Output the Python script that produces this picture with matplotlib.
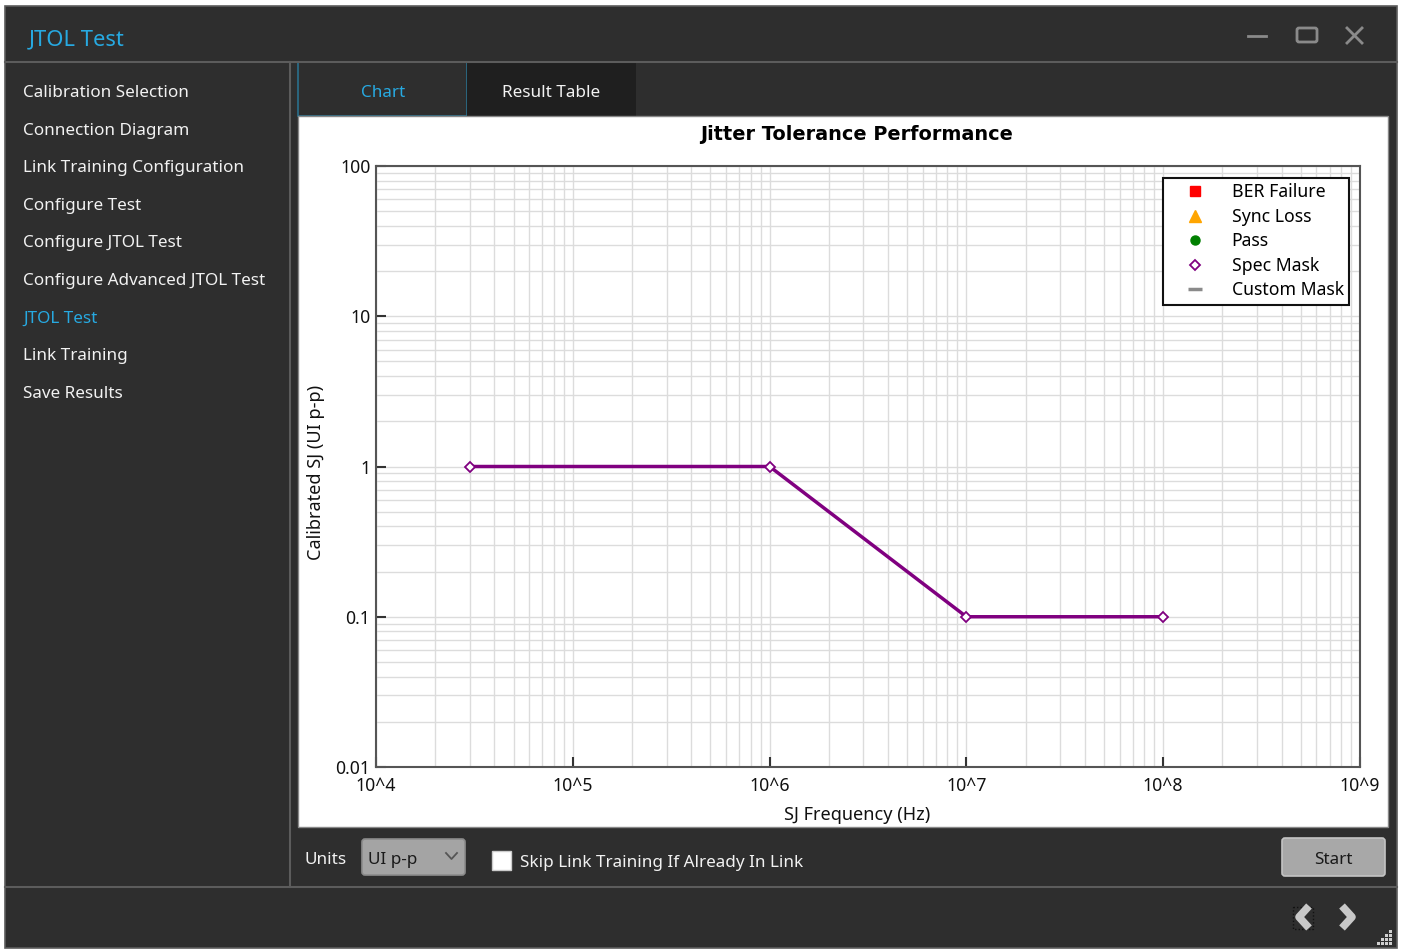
import numpy as np
import matplotlib
matplotlib.use("Agg")
import matplotlib.pyplot as plt
from matplotlib.patches import Rectangle, FancyBboxPatch
from matplotlib.lines import Line2D

# data
freq_hz = np.array([3e4, 1e6, 1e7, 1e8])
spec_mask = np.array([1.0, 1.0, 0.1, 0.1])
x_ticks = [1e4, 1e5, 1e6, 1e7, 1e8, 1e9]
x_tick_labels = ["10^4", "10^5", "10^6", "10^7", "10^8", "10^9"]
y_ticks = [0.01, 0.1, 1, 10, 100]
y_tick_labels = ["0.01", "0.1", "1", "10", "100"]
menu_items = ["Calibration Selection", "Connection Diagram",
              "Link Training Configuration", "Configure Test",
              "Configure JTOL Test", "Configure Advanced JTOL Test",
              "JTOL Test", "Link Training", "Save Results"]
active_item = "JTOL Test"
legend_labels = ["BER Failure", "Sync Loss", "Pass", "Spec Mask", "Custom Mask"]

W, H = 1403, 950
BG = "#2e2e2e"
CYAN = "#27a9e1"
FONT = "Noto Sans"
UI_FS = 12.3

plt.rcParams["font.family"] = [FONT, "DejaVu Sans"]

fig = plt.figure(figsize=(W / 100, H / 100), dpi=100, facecolor="white")

# window chrome drawn in pixel coordinates
ui = fig.add_axes([0, 0, 1, 1])
ui.set_xlim(0, W)
ui.set_ylim(H, 0)
ui.axis("off")

ui.add_patch(Rectangle((5, 6), 1392, 942, facecolor=BG, edgecolor="#5c5c5c", lw=1.2))
ui.plot([5, 1397], [62, 62], color="#5c5c5c", lw=1.5)
ui.plot([290, 290], [62, 887], color="#5c5c5c", lw=1.5)
ui.plot([5, 1397], [887, 887], color="#5c5c5c", lw=1.5)

ui.text(29, 40, "JTOL Test", color=CYAN, fontsize=15.8, va="center", ha="left")

# title bar buttons
ui.plot([1248, 1266], [36, 36], color="#8a8a8a", lw=2)
ui.add_patch(FancyBboxPatch((1297, 28), 20, 14, boxstyle="round,pad=0,rounding_size=2",
                            facecolor="none", edgecolor="#8a8a8a", lw=2))
ui.plot([1347, 1362], [28, 43], color="#8a8a8a", lw=2)
ui.plot([1347, 1362], [43, 28], color="#8a8a8a", lw=2)

# side menu
for i, item in enumerate(menu_items):
    col = CYAN if item == active_item else "#f2f2f2"
    ui.text(23, 93 + i * 37.6, item, color=col, fontsize=UI_FS, va="center", ha="left")

# tabs
ui.add_patch(Rectangle((298, 62), 169, 54, facecolor=BG, edgecolor="#2a6f8c", lw=1.2))
ui.add_patch(Rectangle((467, 62), 169, 54, facecolor="#1f1f1f", edgecolor="none"))
ui.text(383, 93, "Chart", color=CYAN, fontsize=UI_FS, va="center", ha="center")
ui.text(551, 93, "Result Table", color="#f2f2f2", fontsize=UI_FS, va="center", ha="center")

# chart panel
ui.add_patch(Rectangle((298, 116), 1090, 711, facecolor="white", edgecolor="#888888", lw=1))
ui.text(857, 134, "Jitter Tolerance Performance", color="black", fontsize=13.9,
        fontweight="bold", family="DejaVu Sans", va="center", ha="center")

# bottom controls
ui.text(305, 860, "Units", color="#f2f2f2", fontsize=UI_FS, va="center", ha="left")
ui.add_patch(FancyBboxPatch((362, 839), 103, 36, boxstyle="round,pad=0,rounding_size=3",
                            facecolor="#a4a4a4", edgecolor="#8c8c8c", lw=1.2))
ui.text(368, 860, "UI p-p", color="#1a1a1a", fontsize=UI_FS, va="center", ha="left")
ui.plot([446, 451.5, 457], [853, 859, 853], color="#555555", lw=1.3)
ui.add_patch(Rectangle((492, 851), 19, 19, facecolor="white", edgecolor="#cccccc", lw=1))
ui.text(520, 863, "Skip Link Training If Already In Link", color="#f2f2f2",
        fontsize=UI_FS, va="center", ha="left")
ui.add_patch(FancyBboxPatch((1282, 838), 103, 38, boxstyle="round,pad=0,rounding_size=3",
                            facecolor="#a8a8a8", edgecolor="#c4c4c4", lw=1.2))
ui.text(1333, 860, "Start", color="#1a1a1a", fontsize=UI_FS, va="center", ha="center")

# navigation arrows
ui.plot([1309, 1299, 1309], [906, 917, 928], color="#c8c8c8", lw=5.5, solid_capstyle="butt")
ui.plot([1342, 1352, 1342], [906, 917, 928], color="#c8c8c8", lw=5.5, solid_capstyle="butt")
ui.add_patch(Rectangle((1293, 907), 20, 22, facecolor="none", edgecolor="#111111",
                       lw=1, linestyle=(0, (1, 1.5))))
for r in range(4):
    for c in range(4 - r):
        ui.add_patch(Rectangle((1389 - c * 4, 942 - r * 4), 2.5, 2.5,
                               facecolor="#cfcfcf", edgecolor="none"))

# chart axes
ax = fig.add_axes([376 / W, 1 - 767 / H, (1360 - 376) / W, (767 - 166) / H])
ax.set_xscale("log")
ax.set_yscale("log")
ax.set_xlim(1e4, 1e9)
ax.set_ylim(0.01, 100)
ax.grid(True, which="both", color="#dcdcdc", lw=1)
ax.set_axisbelow(True)
for s in ax.spines.values():
    s.set_color("#555555")
    s.set_linewidth(1.5)

ax.plot(freq_hz, spec_mask, color="#800080", lw=2.5, marker="D", markersize=5.5,
        markerfacecolor="white", markeredgecolor="#800080", markeredgewidth=1.3)

ax.set_xticks(x_ticks)
ax.set_xticklabels(x_tick_labels)
ax.set_yticks(y_ticks)
ax.set_yticklabels(y_tick_labels)
ax.tick_params(which="major", direction="in", length=7, width=1.5, color="#333333",
               labelsize=12.7, labelcolor="#111111")
ax.tick_params(axis="x", pad=7)
ax.tick_params(axis="y", pad=4)
ax.tick_params(which="minor", length=0)
ax.set_xlabel("SJ Frequency (Hz)", fontsize=13, color="#111111")
ax.xaxis.set_label_coords(0.489, -0.065)
ax.set_ylabel("Calibrated SJ (UI p-p)", fontsize=13, color="#111111")
ax.yaxis.set_label_coords(-0.052, 0.49)

handles = [
    Line2D([], [], ls="none", marker="s", color="red", markersize=6.5),
    Line2D([], [], ls="none", marker="^", color="orange", markersize=9),
    Line2D([], [], ls="none", marker="o", color="green", markersize=6.5),
    Line2D([], [], ls="none", marker="D", markersize=5.5, markerfacecolor="white",
           markeredgecolor="#800080", markeredgewidth=1.3),
    Line2D([], [], ls="none", marker="_", markersize=10, markeredgewidth=2.5,
           color="#8a8a8a"),
]
leg = ax.legend(handles, legend_labels, loc="upper right",
                bbox_to_anchor=((1349 - 376) / 984, (767 - 178) / 601),
                borderaxespad=0, fontsize=12.7, frameon=True, fancybox=False,
                handlelength=3.0, handletextpad=0.6, labelspacing=0.37,
                borderpad=0.3)
leg.get_frame().set_edgecolor("#111111")
leg.get_frame().set_linewidth(1.5)
leg.get_frame().set_alpha(1)

fig.savefig("out.png", dpi=100, facecolor=fig.get_facecolor())
